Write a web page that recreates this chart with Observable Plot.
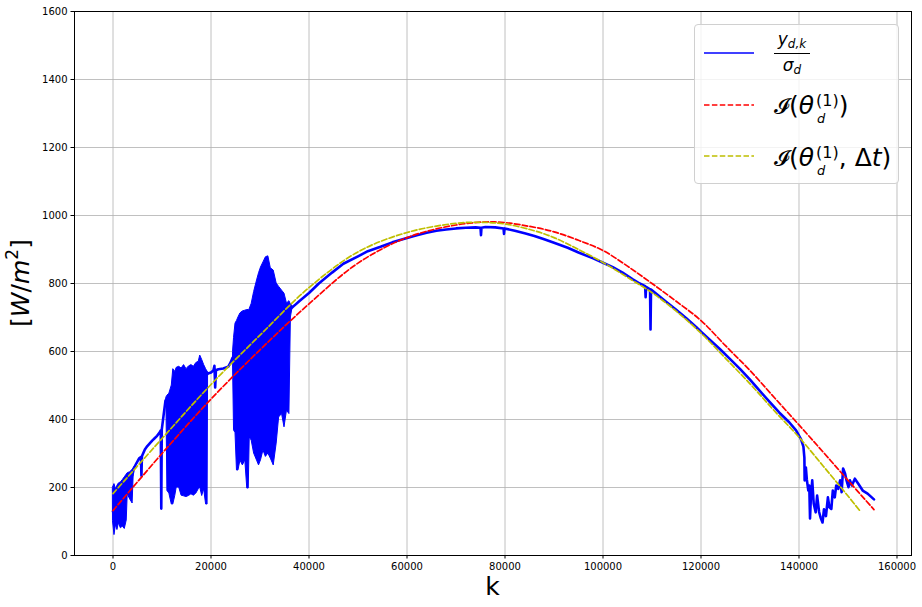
<!DOCTYPE html>
<html>
<head>
<meta charset="utf-8">
<script src="https://cdn.jsdelivr.net/npm/d3@7"></script>
<script src="https://cdn.jsdelivr.net/npm/@observablehq/plot@0.6"></script>
<style>
  body { margin: 0; background: #fff; }
  #wrap { position: relative; width: 922px; height: 607px; font-family: "DejaVu Sans", sans-serif; }
  .legend { position: absolute; left: 694px; top: 24px; width: 203px; height: 158px;
            border: 1px solid #d0d0d0; border-radius: 4px; background: rgba(255,255,255,0.8); }
  .lt { position: absolute; white-space: nowrap; font-size: 25px; line-height: 25px; color: #000; }
  .it { font-style: italic; }
  .cal { font-family: "DejaVu Serif", "DejaVu Sans", serif; font-size: 22px; }
  .ss { position: relative; display: inline-block; font-size: 16px; line-height: 16px; margin-left: 2px; }
  .ss .sp { position: relative; top: -8.5px; }
  .ss .sb { position: absolute; left: 1px; top: 10.5px; font-size: 13px; line-height: 13px; font-style: italic; }
  .frac { position: absolute; left: 79px; top: 6px; width: 36px; text-align: center; color: #000; }
  .num { font-size: 17px; line-height: 17px; white-space: nowrap; }
  .bar { height: 1px; background: #000; margin: 3px 0 3px 0; }
  .den { font-size: 17px; line-height: 17px; white-space: nowrap; }
  .small { font-size: 12px; position: relative; top: 3px; }
</style>
</head>
<body>
<div id="wrap"></div>
<script>
// ---- tick values ----
const xTicks = [0, 20000, 40000, 60000, 80000, 100000, 120000, 140000, 160000];
const yTicks = [0, 200, 400, 600, 800, 1000, 1200, 1400, 1600];

const traceK = [0,500,1000,1500,2000,2500,3000,3500,4000,4300,4800,5300,5700,5800,5900,6500,7000,7500,8000,8500,9000,9500,9750,9850,9950,10300,10700,11000,
  19400,20000,20500,20700,20850,21000,21500,22500,23500,24000,24400,
  36500,37000,38000,40000,42000,44700,47000,50000,52000,54600,57000,60000,62000,64000,66000,68000,70000,72000,74000,75000,75100,75200,76000,78000,79700,79800,79900,
  82000,84000,86000,88000,90000,92800,95000,98000,100000,102000,104000,106000,107500,108600,108700,108800,109600,109700,109800,
  111000,113000,115000,117000,119000,120000,122000,124000,126000,128000,130000,132000,134000,136000,138000,139400,140400,140900,
  141100,141150,141400,141600,141900,142100,142250,142400,142700,143000,143400,143700,144100,144400,144800,145100,145500,145900,
  146200,146600,146900,147300,147600,148000,148400,148700,149000,149400,149700,150100,150400,150800,151400,152100,153000,154000,155300];
const traceV = [130,150,140,170,165,190,205,215,240,258,272,285,290,235,292,312,322,330,338,345,352,362,368,138,370,410,455,462,
  535,538,545,558,494,545,548,550,555,568,582,
  729,735,748,772,800,832,858,880,895,908,921,934,942,949,955,959,962,964,965,964,942,964,966,965,962,946,962,
  955,948,940,930,920,905,891,874,861,848,832,813,800,792,760,790,783,665,782,
  768,745,722,698,672,658,632,605,577,548,517,484,452,420,392,368,342,320,
  288,221,259,223,191,206,109,162,221,153,127,176,128,112,97,136,116,171,
  142,137,191,171,206,196,221,186,256,241,221,201,221,206,226,211,191,182,165];

// ---- noisy bands of the measured signal: lower / upper envelope ----
const bandId = ["a","a","a","a","a","a","a","a","a","a","a","a","a","a",
  "b","b","b","b","b","b","b","b","b","b","b","b","b","b","b","b","b","b","b","b","b","b",
  "c","c","c","c","c","c","c","c","c","c","c","c","c","c","c","c","c","c","c","c","c","c","c","c","c","c","c","c","c"];
const bandK = [0,300,600,900,1200,1600,2000,2400,2800,3000,3500,4000,4200,4300,
  10900,11100,11500,12000,12300,12700,13000,13500,14000,14500,15000,15500,16000,16500,17000,17500,17800,18200,18600,19000,19300,19400,
  24500,24700,25000,25300,25600,26000,26500,27000,27400,27700,27900,28300,28800,29400,29800,30200,30700,31200,31700,32200,32800,33400,33900,34500,35000,35500,36000,36300,36600];
const bandLo = [100,60,90,75,95,80,85,78,103,180,165,153,230,255,
  455,190,182,150,150,175,200,200,176,174,172,175,180,176,182,195,200,175,195,150,150,530,
  560,368,360,250,250,279,265,280,197,197,347,338,300,279,265,280,309,290,300,285,265,329,406,416,377,426,416,700,725];
const bandHi = [200,210,195,205,212,215,222,230,238,242,245,252,256,260,
  465,470,476,500,548,540,552,555,550,560,548,556,560,555,566,570,588,575,560,548,540,540,
  600,640,682,690,700,712,718,720,722,722,725,740,775,809,830,847,862,877,880,845,838,800,790,779,770,741,748,738,735];

// ---- model I(theta_d^(1)) (red) ----
const redK = [0,10000,20000,30000,40000,50000,60000,70000,78000,85000,90000,95000,100000,105000,110000,115000,120000,125000,130000,135000,140000,145000,150000,155300];
const redV = [132,300,460,605,740,860,935,972,981,968,952,927,897,851,800,747,691,617,544,464,384,303,221,135];

// ---- model I(theta_d^(1), dt) (yellow) ----
const yelK = [0,10000,20000,30000,40000,50000,60000,70000,75000,80000,86000,90000,95000,100000,105000,110000,115000,120000,125000,130000,135000,140000,145000,150000,152400];
const yelV = [182,344,503,648,788,893,950,977,980,975,955,935,900,862,818,773,718,654,580,505,425,348,262,175,132];

const trace = traceK.map((k, i) => ({k, v: traceV[i]}));
const band = bandK.map((k, i) => ({k, lo: bandLo[i], hi: bandHi[i], id: bandId[i]}));
const red = redK.map((k, i) => ({k, v: redV[i]}));
const yel = yelK.map((k, i) => ({k, v: yelV[i]}));

const grid = {stroke: "#b0b0b0", strokeOpacity: 1, strokeWidth: 0.8};

const chart = Plot.plot({
  width: 922, height: 607,
  marginLeft: 74, marginRight: 11, marginTop: 11, marginBottom: 52,
  style: {fontFamily: "DejaVu Sans, sans-serif", fontSize: "10px", color: "#000", background: "#fff"},
  x: {domain: [-7860, 162960]},
  y: {domain: [0, 1600]},
  marks: [
    Plot.gridX(xTicks, grid),
    Plot.gridY(yTicks, grid),
    Plot.areaY(band, {x: "k", y1: "lo", y2: "hi", z: "id", fill: "#0000ff", stroke: "#0000ff", strokeWidth: 1}),
    Plot.lineY(trace, {x: "k", y: "v", stroke: "#0000ff", strokeWidth: 2.6}),
    Plot.line(red, {x: "k", y: "v", stroke: "#ff0000", strokeWidth: 1.7, strokeDasharray: "5.5 2.4", curve: "catmull-rom"}),
    Plot.line(yel, {x: "k", y: "v", stroke: "#bfbf00", strokeWidth: 1.7, strokeDasharray: "5.5 2.4", curve: "catmull-rom"}),
    Plot.frame({stroke: "#000", strokeWidth: 1}),
    Plot.axisX(xTicks, {tickSize: 3.5, tickPadding: 3.5, tickFormat: d => String(d), label: null}),
    Plot.axisY(yTicks, {tickSize: 3.5, tickPadding: 3.5, tickFormat: d => String(d), label: null})
  ]
});

const wrap = document.getElementById("wrap");
wrap.appendChild(chart);

// axis titles
const svg = d3.select(chart);
svg.append("text").attr("x", 492.5).attr("y", 595).attr("text-anchor", "middle")
  .attr("font-size", 25).attr("font-family", "DejaVu Sans").attr("fill", "#000").text("k");
const yl = svg.append("text").attr("transform", "translate(29,283) rotate(-90)")
  .attr("text-anchor", "middle").attr("font-size", 25).attr("font-family", "DejaVu Sans").attr("fill", "#000");
yl.append("tspan").text("[");
yl.append("tspan").attr("font-style", "italic").text("W");
yl.append("tspan").text("/");
yl.append("tspan").attr("font-style", "italic").text("m");
yl.append("tspan").attr("font-size", 17).attr("dy", -11).text("2");
yl.append("tspan").attr("dy", 11).text("]");

// legend
const lg = document.createElement("div");
lg.className = "legend";
lg.innerHTML = `
<svg width="203" height="158" style="position:absolute;left:0;top:0">
  <line x1="9" x2="59" y1="28" y2="28" stroke="#0000ff" stroke-width="1.5"/>
  <line x1="9" x2="59" y1="80" y2="80" stroke="#ff0000" stroke-width="1.5" stroke-dasharray="5.5 2.4"/>
  <line x1="9" x2="59" y1="131" y2="131" stroke="#bfbf00" stroke-width="1.5" stroke-dasharray="5.5 2.4"/>
</svg>
<div class="frac">
  <div class="num"><span class="it">y</span><span class="small it">d,k</span></div>
  <div class="bar"></div>
  <div class="den"><span class="it">σ</span><span class="small it">d</span></div>
</div>
<div class="lt" style="left:79px;top:68px"><span class="cal">𝓘</span>(<span class="it">θ</span><span class="ss"><span class="sp">(1)</span><span class="sb">d</span></span>)</div>
<div class="lt" style="left:79px;top:120px"><span class="cal">𝓘</span>(<span class="it">θ</span><span class="ss"><span class="sp">(1)</span><span class="sb">d</span></span>, Δ<span class="it">t</span>)</div>
`;
wrap.appendChild(lg);
</script>
</body>
</html>
